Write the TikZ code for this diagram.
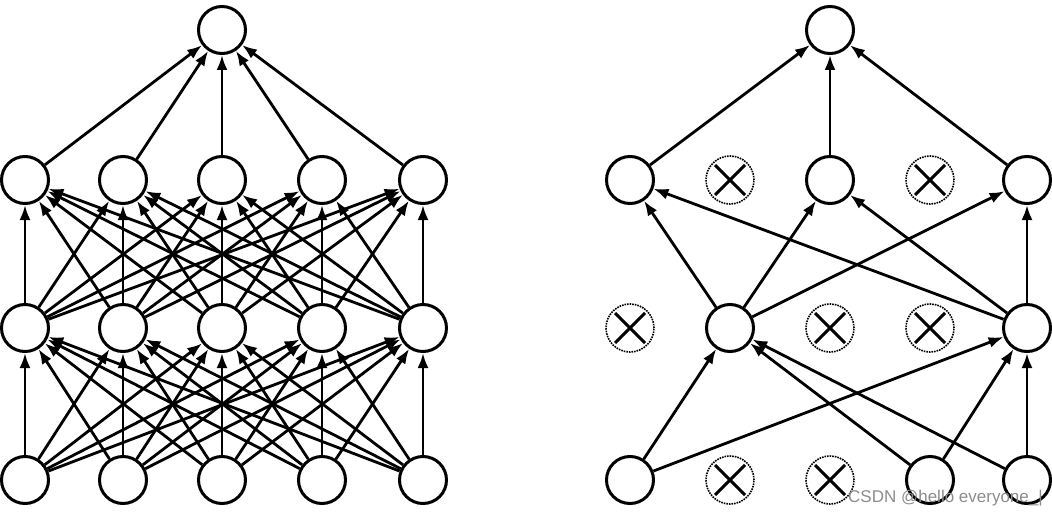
\documentclass[tikz,border=0pt]{standalone}
\usepackage{fontspec}
\setsansfont{Liberation Sans}
\usetikzlibrary{arrows.meta}
\begin{document}
\begin{tikzpicture}[x=1pt,y=-1pt,
  neuron/.style={circle,draw,line width=3pt,minimum size=47pt,inner sep=0pt},
  dropped/.style={circle,draw,densely dotted,line width=1.6pt,minimum size=48pt,inner sep=0pt,
    path picture={\draw[solid,line width=3pt] ([shift={(9,9)}]path picture bounding box.north west) -- ([shift={(-9,-9)}]path picture bounding box.south east);
                  \draw[solid,line width=3pt] ([shift={(-9,9)}]path picture bounding box.north east) -- ([shift={(9,-9)}]path picture bounding box.south west);}},
  conn/.style={-{Latex[length=15pt,width=11pt]},line width=2.8pt}]
\useasboundingbox (0,0) rectangle (1052,519);
% left network
\foreach \i/\x in {1/25,2/123,3/222,4/322,5/423}{
  \node[neuron] (a\i) at (\x,480) {};
  \node[neuron] (b\i) at (\x,328) {};
  \node[neuron] (c\i) at (\x,180) {};
}
\node[neuron] (d) at (222,30) {};
\foreach \i in {1,...,5}{
  \foreach \j in {1,...,5}{
    \draw[conn] (a\i) -- (b\j);
    \draw[conn] (b\i) -- (c\j);
  }
  \draw[conn] (c\i) -- (d);
}
% right network
\node[neuron] (p1) at (630,480) {};
\node[dropped] (p2) at (730,480) {};
\node[dropped] (p3) at (830,480) {};
\node[neuron] (p4) at (930,480) {};
\node[neuron] (p5) at (1027,480) {};
\node[dropped] (q1) at (630,328) {};
\node[neuron] (q2) at (730,328) {};
\node[dropped] (q3) at (830,328) {};
\node[dropped] (q4) at (930,328) {};
\node[neuron] (q5) at (1027,328) {};
\node[neuron] (r1) at (630,180) {};
\node[dropped] (r2) at (730,180) {};
\node[neuron] (r3) at (830,180) {};
\node[dropped] (r4) at (930,180) {};
\node[neuron] (r5) at (1027,180) {};
\node[neuron] (s) at (830,30) {};
\draw[conn] (p1) -- (q2);
\draw[conn] (p1) -- (q5);
\draw[conn] (p4) -- (q2);
\draw[conn] (p5) -- (q2);
\draw[conn] (p4) -- (q5);
\draw[conn] (p5) -- (q5);
\draw[conn] (q2) -- (r1);
\draw[conn] (q2) -- (r3);
\draw[conn] (q2) -- (r5);
\draw[conn] (q5) -- (r1);
\draw[conn] (q5) -- (r3);
\draw[conn] (q5) -- (r5);
\draw[conn] (r1) -- (s);
\draw[conn] (r3) -- (s);
\draw[conn] (r5) -- (s);
\node[text=black!45,font=\sffamily\fontsize{17}{17}\selectfont,anchor=east,inner sep=0pt] (wm) at (1043,498) {CSDN @hello everyone\_|};
\end{tikzpicture}
\end{document}
